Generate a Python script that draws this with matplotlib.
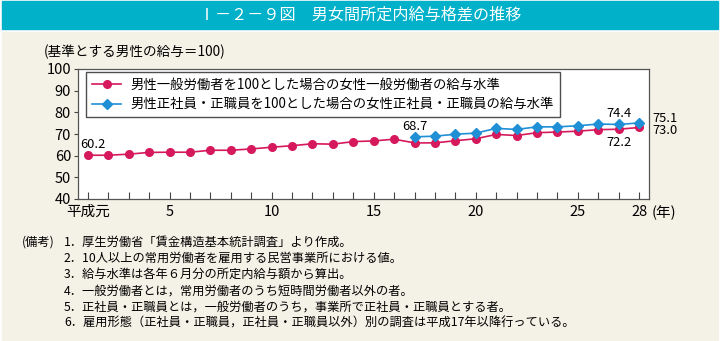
import numpy as np
import matplotlib
matplotlib.use("Agg")
import matplotlib.pyplot as plt
from matplotlib.patches import Rectangle

plt.rcParams['font.family'] = ['Noto Sans CJK JP', 'DejaVu Sans']

# data: 平成元年(1) .. 平成28年
years = list(range(1, 29))
general = [60.2, 60.2, 60.7, 61.5, 61.6, 61.6, 62.5, 62.5, 63.1, 63.9,
           64.6, 65.5, 65.3, 66.5, 66.8, 67.6, 65.9, 65.9, 66.9, 67.8,
           69.8, 69.3, 70.6, 70.9, 71.3, 72.0, 72.2, 73.0]
years_reg = list(range(17, 29))
regular = [68.7, 69.0, 69.9, 70.4, 72.6, 72.1, 73.3, 73.3, 73.8, 74.6, 74.4, 75.1]

tick_pos = [1, 5, 10, 15, 20, 25, 28]
tick_lab = ['平成元', '5', '10', '15', '20', '25', '28']

name_general = '男性一般労働者を100とした場合の女性一般労働者の給与水準'
name_regular = '男性正社員・正職員を100とした場合の女性正社員・正職員の給与水準'
title = 'Ⅰ－２－９図　男女間所定内給与格差の推移'
ylabel = '(基準とする男性の給与＝100)'
notes = [
    '1．厚生労働省「賃金構造基本統計調査」より作成。',
    '2．10人以上の常用労働者を雇用する民営事業所における値。',
    '3．給与水準は各年６月分の所定内給与額から算出。',
    '4．一般労働者とは，常用労働者のうち短時間労働者以外の者。',
    '5．正社員・正職員とは，一般労働者のうち，事業所で正社員・正職員とする者。',
    '6．雇用形態（正社員・正職員，正社員・正職員以外）別の調査は平成17年以降行っている。',
]

pink = '#d6195c'
blue = '#1f8fd6'
W, H = 720, 341

fig = plt.figure(figsize=(7.2, 3.41), dpi=100)
fig.patch.set_facecolor('white')
# background panels
fig.patches.append(Rectangle((2 / W, 1 - 29 / H), 716 / W, 28 / H,
                             transform=fig.transFigure, color='#00b1c9', zorder=-2))
fig.patches.append(Rectangle((2 / W, 0), 716 / W, 1 - 32 / H,
                             transform=fig.transFigure, color='#f4f1e6', zorder=-2))
fig.text(0.5, 1 - 15 / H, title, color='white', fontsize=11.6,
         ha='center', va='center')

ax = fig.add_axes([78 / W, 142 / H, 571 / W, 130 / H])
ax.set_zorder(1)
ax.set_facecolor('white')
ax.plot(years, general, color=pink, lw=1.2, marker='o', ms=5.5, label=name_general, zorder=3)
ax.plot(years_reg, regular, color=blue, lw=1.2, marker='D', ms=5, label=name_regular, zorder=4)

ax.set_xlim(0.51, 28.49)
ax.set_ylim(40, 100)
ax.set_yticks(range(40, 101, 10))
ax.set_xticks(years)
ax.set_xticklabels([tick_lab[tick_pos.index(y)] if y in tick_pos else '' for y in years])
ax.tick_params(axis='x', direction='in', length=5, width=0.8, color='#444',
               labelsize=10.5, pad=4)
ax.tick_params(axis='y', direction='out', length=3, width=0.8, color='#444',
               labelsize=10.5, pad=2)
for s in ax.spines.values():
    s.set_color('#555')
    s.set_linewidth(0.9)

ax.text(1.005, -0.105, '(年)', transform=ax.transAxes, fontsize=10.5,
        ha='left', va='center')
fig.text(44 / W, 1 - 52 / H, ylabel, fontsize=9.8, ha='left', va='center')

# value labels
lab_kw = dict(textcoords='offset points', fontsize=9.3, va='center')
ax.annotate('60.2', (1, general[0]), xytext=(3.5, 7.5), ha='center', **lab_kw)
ax.annotate('68.7', (17, regular[0]), xytext=(0, 7.5), ha='center', **lab_kw)
ax.annotate('74.4', (27, regular[-2]), xytext=(0, 8), ha='center', **lab_kw)
ax.annotate('72.2', (27, general[-2]), xytext=(0, -9.5), ha='center', **lab_kw)
ax.annotate('75.1', (28, regular[-1]), xytext=(9.5, 3.5), ha='left', **lab_kw)
ax.annotate('73.0', (28, general[-1]), xytext=(9.5, -2.5), ha='left', **lab_kw)

leg = ax.legend(loc='upper left', bbox_to_anchor=(0.014, 0.977), borderaxespad=0,
                fontsize=9.6, frameon=True, fancybox=False, handlelength=2.2,
                borderpad=0.45, labelspacing=0.4, handletextpad=0.7)
leg.get_frame().set_edgecolor('#222')
leg.get_frame().set_linewidth(1.0)

# notes
fig.text(22 / W, 1 - 242 / H, '(備考)', fontsize=8.8, ha='left', va='center')
for i, n in enumerate(notes):
    fig.text(64 / W, 1 - (242 + i * 16.2) / H, n, fontsize=8.8, ha='left', va='center')

fig.savefig('out.png', dpi=100, facecolor=fig.get_facecolor())
